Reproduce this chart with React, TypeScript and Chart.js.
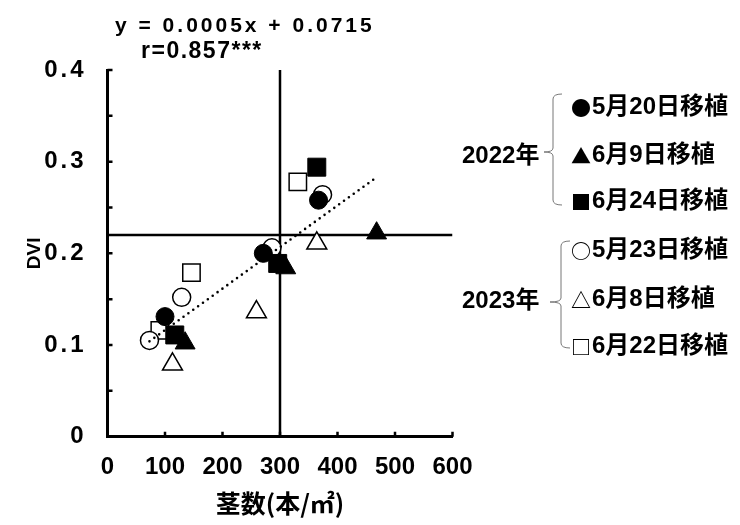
import React, { useEffect, useRef } from 'react';
import { Chart, registerables } from 'chart.js';

Chart.register(...registerables);

// ---- data (stems per m2 vs DVI) ----
const may20_2022_stems = [100, 271, 367];
const may20_2022_dvi = [0.131, 0.2, 0.258];
const jun9_2022_stems = [135, 310, 468];
const jun9_2022_dvi = [0.102, 0.184, 0.222];
const jun24_2022_stems = [117, 296, 364];
const jun24_2022_dvi = [0.111, 0.189, 0.294];
const may23_2023_stems = [73, 129, 286, 374];
const may23_2023_dvi = [0.105, 0.152, 0.206, 0.264];
const jun8_2023_stems = [113, 259, 364];
const jun8_2023_dvi = [0.079, 0.136, 0.211];
const jun22_2023_stems = [91, 146, 331];
const jun22_2023_dvi = [0.116, 0.179, 0.278];

const trend_stems = [73, 468];
const trend_dvi = [0.104, 0.283];

const ref_stems = 300;
const ref_dvi = 0.22;

const xTickValues = [0, 100, 200, 300, 400, 500, 600];
const yTickLabels = ['0', '0.1', '0.2', '0.3', '0.4'];

const seriesSymbols = ['●', '▲', '■', '○', '△', '□'];
const seriesNames = ['5月20日移植', '6月9日移植', '6月24日移植', '5月23日移植', '6月8日移植', '6月22日移植'];
const yearNames = ['2022年', '2023年'];
const equationText = 'y = 0.0005x + 0.0715';
const corrText = 'r=0.857***';
const xTitle = '茎数(本/㎡)';
const yTitle = 'DVI';

const pts = (xs: number[], ys: number[]) => xs.map((x, i) => ({ x, y: ys[i] }));

const SANS = "'Liberation Sans', Arial, sans-serif";
const CJK = "'Noto Sans CJK JP', sans-serif";

const overlay = {
  id: 'overlay',
  afterDraw(chart: any) {
    const ctx: CanvasRenderingContext2D = chart.ctx;
    const xs = chart.scales.x;
    const ys = chart.scales.y;
    const area = chart.chartArea;
    ctx.save();
    // inward tick marks
    ctx.strokeStyle = '#000';
    ctx.lineWidth = 2.5;
    ctx.beginPath();
    xs.ticks.forEach((t: any) => {
      const px = xs.getPixelForValue(t.value);
      ctx.moveTo(px, area.bottom);
      ctx.lineTo(px, area.bottom - 5);
    });
    ys.ticks.forEach((t: any) => {
      const py = ys.getPixelForValue(t.value);
      ctx.moveTo(area.left, py);
      ctx.lineTo(area.left + 5, py);
    });
    ctx.stroke();

    // equation and r
    ctx.fillStyle = '#000';
    ctx.textAlign = 'left';
    ctx.textBaseline = 'alphabetic';
    (ctx as any).letterSpacing = '3px';
    ctx.font = `bold 21px ${SANS}`;
    ctx.fillText(equationText, 115, 32);
    (ctx as any).letterSpacing = '1.5px';
    ctx.font = `bold 23px ${SANS}`;
    ctx.fillText(corrText, 141, 58);
    (ctx as any).letterSpacing = '0px';

    // legend
    ctx.textBaseline = 'middle';
    ctx.font = `bold 24px ${SANS}, ${CJK}`;
    ctx.fillText(yearNames[0], 462, 156);
    ctx.fillText(yearNames[1], 462, 301);
    const rowsY = [107, 155, 201, 250, 299, 346];
    seriesNames.forEach((s, i) => {
      ctx.font = `bold 20px ${CJK}`;
      ctx.fillText(seriesSymbols[i], 571, rowsY[i] + 1);
      ctx.font = `bold 24px ${SANS}, ${CJK}`;
      ctx.fillText(s, 592, rowsY[i]);
    });

    // braces
    ctx.strokeStyle = '#777';
    ctx.lineWidth = 1;
    const brace = (x: number, top: number, tip: number, bottom: number, hx: number, tx: number) => {
      ctx.beginPath();
      ctx.moveTo(hx, top);
      ctx.quadraticCurveTo(x, top, x, top + 5);
      ctx.lineTo(x, tip - 4);
      ctx.quadraticCurveTo(x, tip, tx, tip);
      ctx.quadraticCurveTo(x, tip, x, tip + 4);
      ctx.lineTo(x, bottom - 5);
      ctx.quadraticCurveTo(x, bottom, hx, bottom);
      ctx.stroke();
    };
    brace(553, 94, 152, 205, 562, 544);
    brace(561, 241, 302, 348, 570, 550);
    ctx.restore();
  },
};

export default function App() {
  const ref = useRef<HTMLCanvasElement>(null);
  useEffect(() => {
    const canvas = ref.current!;
    const openStyle = { backgroundColor: '#fff', borderColor: '#000', borderWidth: 1.5 };
    const filledStyle = { backgroundColor: '#000', borderColor: '#000', borderWidth: 1 };
    const chart = new Chart(canvas, {
      type: 'scatter',
      data: {
        datasets: [
          {
            label: 'ref-v',
            data: [{ x: ref_stems, y: 0 }, { x: ref_stems, y: 0.4 }],
            showLine: true, borderColor: '#000', borderWidth: 2.5, pointRadius: 0, order: 10,
          } as any,
          {
            label: 'ref-h',
            data: [{ x: 0, y: ref_dvi }, { x: 600, y: ref_dvi }],
            showLine: true, borderColor: '#000', borderWidth: 2.5, pointRadius: 0, order: 10,
          },
          { label: seriesNames[3], data: pts(may23_2023_stems, may23_2023_dvi), pointStyle: 'circle', pointRadius: 9, ...openStyle, order: 6 },
          { label: seriesNames[4], data: pts(jun8_2023_stems, jun8_2023_dvi), pointStyle: 'triangle', pointRadius: 11.5, ...openStyle, order: 6 },
          { label: seriesNames[5], data: pts(jun22_2023_stems, jun22_2023_dvi), pointStyle: 'rect', pointRadius: 12.3, ...openStyle, order: 6 },
          {
            label: 'trend',
            data: pts(trend_stems, trend_dvi),
            showLine: true, borderColor: '#000', borderWidth: 2.6, borderDash: [0, 6], borderCapStyle: 'round',
            pointRadius: 0, order: 4,
          } as any,
          { label: seriesNames[0], data: pts(may20_2022_stems, may20_2022_dvi), pointStyle: 'circle', pointRadius: 9, ...filledStyle, order: 2 },
          { label: seriesNames[2], data: pts(jun24_2022_stems, jun24_2022_dvi), pointStyle: 'rect', pointRadius: 12.7, ...filledStyle, order: 2 },
          { label: seriesNames[1], data: pts(jun9_2022_stems, jun9_2022_dvi), pointStyle: 'triangle', pointRadius: 11.5, ...filledStyle, order: 1 },
        ],
      },
      options: {
        responsive: false,
        animation: false,
        devicePixelRatio: 1,
        events: [],
        layout: { padding: { left: 0, top: 70, right: 287.5, bottom: 0 } },
        plugins: { legend: { display: false }, tooltip: { enabled: false } },
        scales: {
          x: {
            type: 'linear', min: 0, max: 600,
            afterBuildTicks: (s: any) => { s.ticks = xTickValues.map((v) => ({ value: v })); },
            ticks: { color: '#000', padding: 16, font: { family: SANS, size: 24, weight: 'bold' } },
            grid: { display: false, drawTicks: false },
            border: { display: true, color: '#000', width: 3 },
            title: { display: true, text: xTitle, color: '#000', font: { family: CJK, size: 25, weight: 'bold' }, padding: { top: 0, bottom: 7 } },
            afterFit: (s: any) => { s.height = 88.3; },
          },
          y: {
            type: 'linear', min: 0, max: 0.4,
            ticks: {
              stepSize: 0.05, color: '#000', padding: 21,
              font: { family: SANS, size: 24, weight: 'bold' },
              callback: (v: any) => {
                const k = Math.round(Number(v) * 20);
                return k % 2 === 0 ? yTickLabels[k / 2] : '';
              },
            },
            grid: { display: false, drawTicks: false },
            border: { display: true, color: '#000', width: 3 },
            title: { display: true, text: yTitle, color: '#000', font: { family: SANS, size: 19, weight: 'bold' }, padding: { top: 23, bottom: 0 } },
            afterFit: (s: any) => {
              s.width = 107.5;
              if (!s.__patched) {
                s.__patched = true;
                const orig = s.drawLabels;
                s.drawLabels = function (a: any) {
                  this.ctx.save();
                  this.ctx.letterSpacing = '3px';
                  orig.call(this, a);
                  this.ctx.restore();
                };
              }
            },
          },
        },
      },
      plugins: [overlay],
    } as any);
    return () => chart.destroy();
  }, []);
  return (
    <div style={{ position: 'absolute', left: 0, top: 0, width: 740, height: 525, background: '#fff' }}>
      <canvas ref={ref} width={740} height={525} style={{ width: 740, height: 525, display: 'block' }} />
    </div>
  );
}
